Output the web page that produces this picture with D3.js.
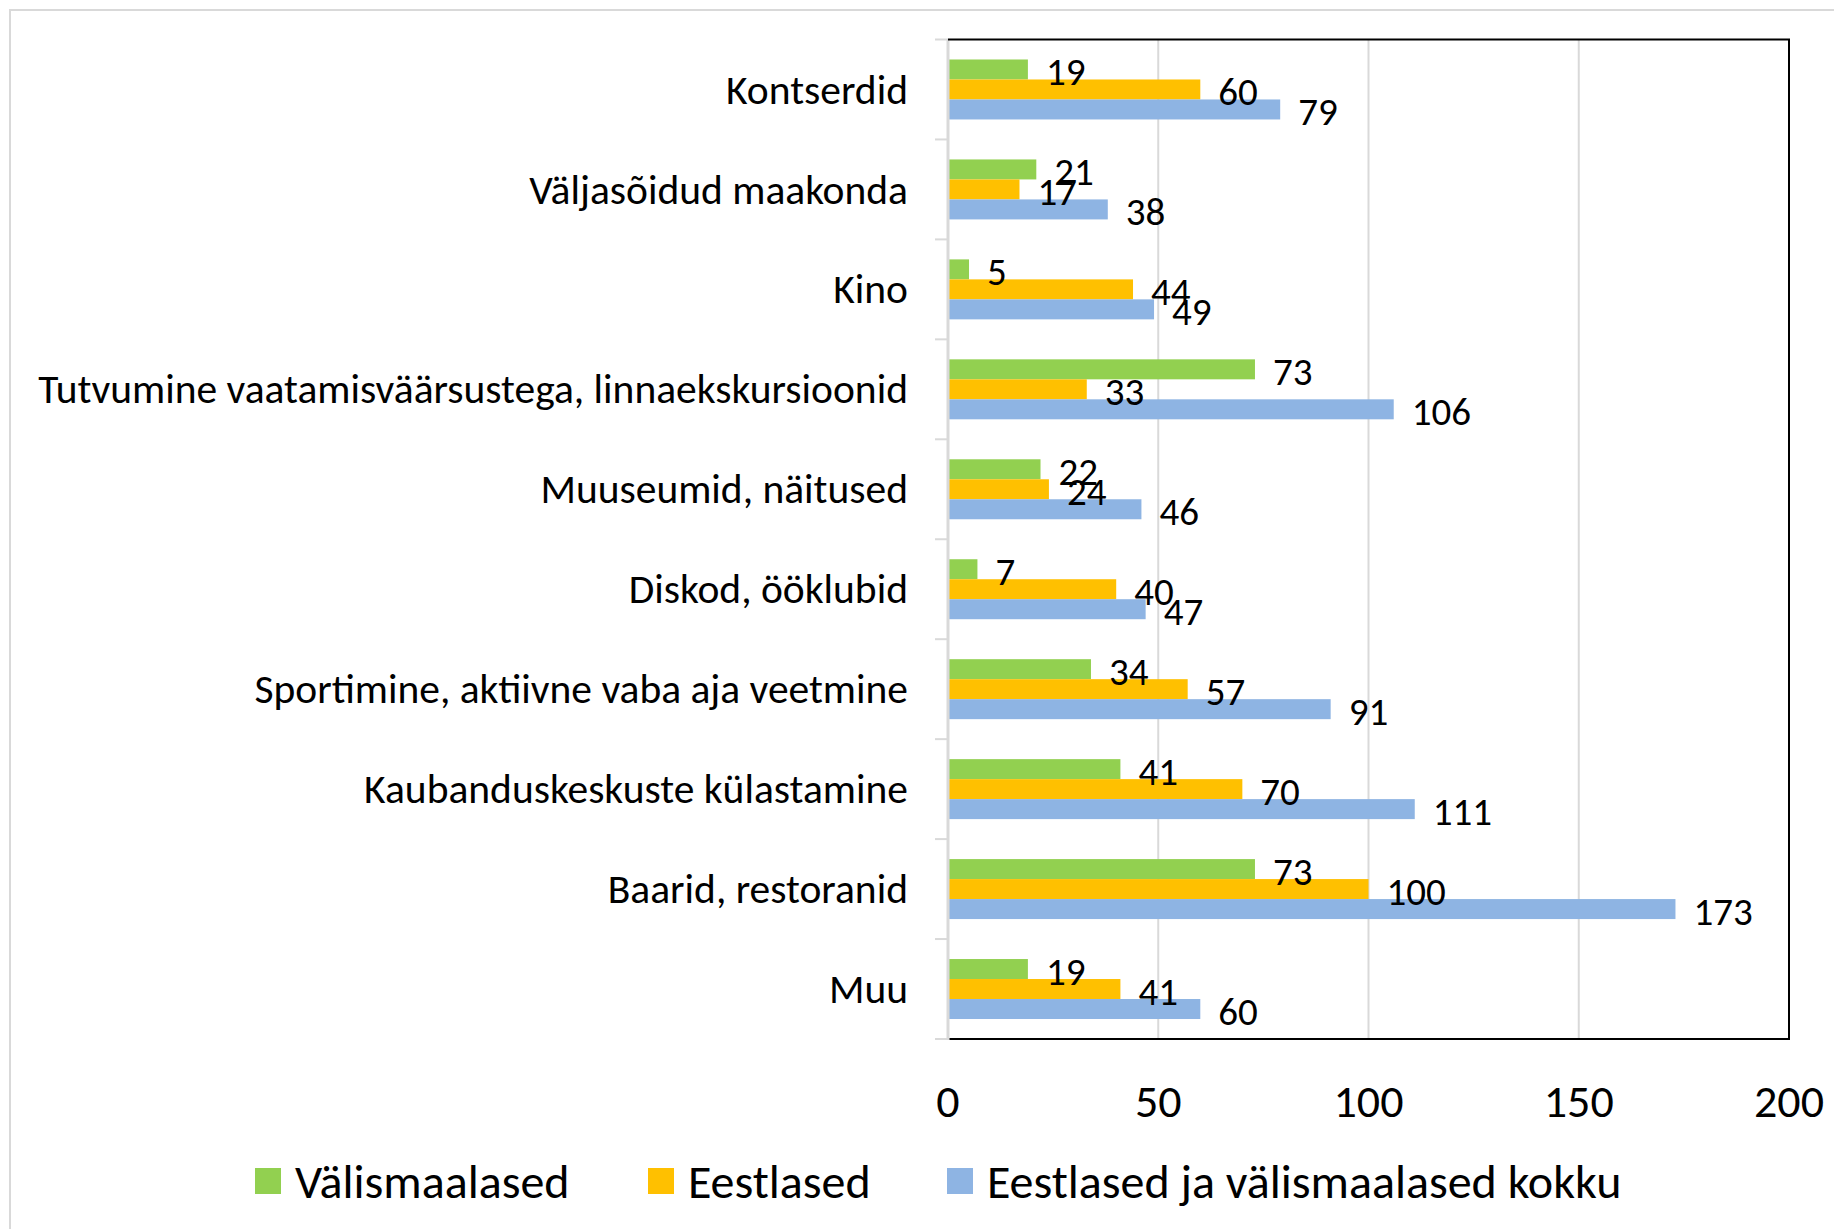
<!DOCTYPE html>
<html>
<head>
<meta charset="utf-8">
<script src="https://cdn.jsdelivr.net/npm/d3@7"></script>
<style>
  body { margin: 0; background: #fff; }
  svg text { font-family: Carlito, Calibri, Lato, "Open Sans", sans-serif; fill: #000; }
</style>
</head>
<body>
<div id="chart"></div>
<script>
var categories = [
  "Kontserdid",
  "Väljasõidud maakonda",
  "Kino",
  "Tutvumine vaatamisväärsustega, linnaekskursioonid",
  "Muuseumid, näitused",
  "Diskod, ööklubid",
  "Sportimine, aktiivne vaba aja veetmine",
  "Kaubanduskeskuste külastamine",
  "Baarid, restoranid",
  "Muu"
];
var valismaalased = [19, 21, 5, 73, 22, 7, 34, 41, 73, 19];
var eestlased = [60, 17, 44, 33, 24, 40, 57, 70, 100, 41];
var kokku = [79, 38, 49, 106, 46, 47, 91, 111, 173, 60];
var seriesNames = ["Välismaalased", "Eestlased", "Eestlased ja välismaalased kokku"];
var xTicks = [0, 50, 100, 150, 200];

var colors = ["#92D050", "#FFC000", "#8EB4E3"];
var series = [valismaalased, eestlased, kokku];

var width = 1834, height = 1229;
var plot = { left: 948, right: 1789, top: 39.5, bottom: 1039 };

var svg = d3.select("#chart").append("svg")
    .attr("width", width)
    .attr("height", height);

// outer chart border (runs off the page on the right/bottom)
svg.append("rect")
    .attr("x", 10).attr("y", 10)
    .attr("width", width + 20).attr("height", height + 20)
    .attr("fill", "#fff")
    .attr("stroke", "#d9d9d9")
    .attr("stroke-width", 2);

var x = d3.scaleLinear().domain([0, 200]).range([plot.left, plot.right]);
var y = d3.scaleBand().domain(categories).range([plot.top, plot.bottom])
    .paddingInner(0.4).paddingOuter(0.2);
var yInner = d3.scaleBand().domain(d3.range(series.length)).range([0, y.bandwidth()]);
var step = (plot.bottom - plot.top) / categories.length;

// gridlines
svg.append("g").selectAll("line")
    .data(xTicks.slice(1, -1))
    .enter().append("line")
    .attr("x1", function(d) { return x(d); })
    .attr("x2", function(d) { return x(d); })
    .attr("y1", plot.top).attr("y2", plot.bottom)
    .attr("stroke", "#d9d9d9").attr("stroke-width", 2);

// category ticks on the left
svg.append("g").selectAll("line")
    .data(d3.range(categories.length + 1))
    .enter().append("line")
    .attr("x1", plot.left - 13).attr("x2", plot.left)
    .attr("y1", function(i) { return plot.top + i * step; })
    .attr("y2", function(i) { return plot.top + i * step; })
    .attr("stroke", "#d9d9d9").attr("stroke-width", 2);

// bars
var groups = svg.append("g").selectAll("g")
    .data(categories)
    .enter().append("g")
    .attr("transform", function(d) { return "translate(0," + y(d) + ")"; });

groups.each(function(cat, ci) {
  var g = d3.select(this);
  series.forEach(function(s, si) {
    g.append("rect")
        .attr("x", x(0))
        .attr("y", yInner(si))
        .attr("width", x(s[ci]) - x(0))
        .attr("height", yInner.bandwidth())
        .attr("fill", colors[si]);
  });
  series.forEach(function(s, si) {
    g.append("text")
        .attr("x", x(s[ci]) + 18)
        .attr("y", yInner(si) + yInner.bandwidth() / 2 + 1.5)
        .attr("dy", "0.36em")
        .style("font-size", "39px")
        .text(s[ci]);
  });
});

// frame: grey left axis, black top/right/bottom
svg.append("line")
    .attr("x1", plot.left).attr("x2", plot.left)
    .attr("y1", plot.top).attr("y2", plot.bottom + 1)
    .attr("stroke", "#d9d9d9").attr("stroke-width", 3);
svg.append("path")
    .attr("d", "M" + plot.left + "," + plot.top + "H" + plot.right + "V" + plot.bottom + "H" + (plot.left + 1.5))
    .attr("fill", "none").attr("stroke", "#000").attr("stroke-width", 2);

// category labels
svg.append("g").selectAll("text")
    .data(categories)
    .enter().append("text")
    .attr("x", plot.left - 40)
    .attr("y", function(d) { return y(d) + y.bandwidth() / 2; })
    .attr("dy", "0.34em")
    .attr("text-anchor", "end")
    .style("font-size", "41.5px")
    .text(function(d) { return d; });

// x tick labels
svg.append("g").selectAll("text")
    .data(xTicks)
    .enter().append("text")
    .attr("x", function(d) { return x(d); })
    .attr("y", 1117)
    .attr("text-anchor", "middle")
    .style("font-size", "46px")
    .text(function(d) { return d; });

// legend
var legendX = [255, 648, 947];
var legend = svg.append("g").selectAll("g")
    .data(seriesNames)
    .enter().append("g")
    .attr("transform", function(d, i) { return "translate(" + legendX[i] + ",1181)"; });
legend.append("rect")
    .attr("x", 0).attr("y", -13)
    .attr("width", 26).attr("height", 26)
    .attr("fill", function(d, i) { return colors[i]; });
legend.append("text")
    .attr("x", 40).attr("y", 0)
    .attr("dy", "0.36em")
    .style("font-size", "48px")
    .text(function(d) { return d; });
</script>
</body>
</html>
